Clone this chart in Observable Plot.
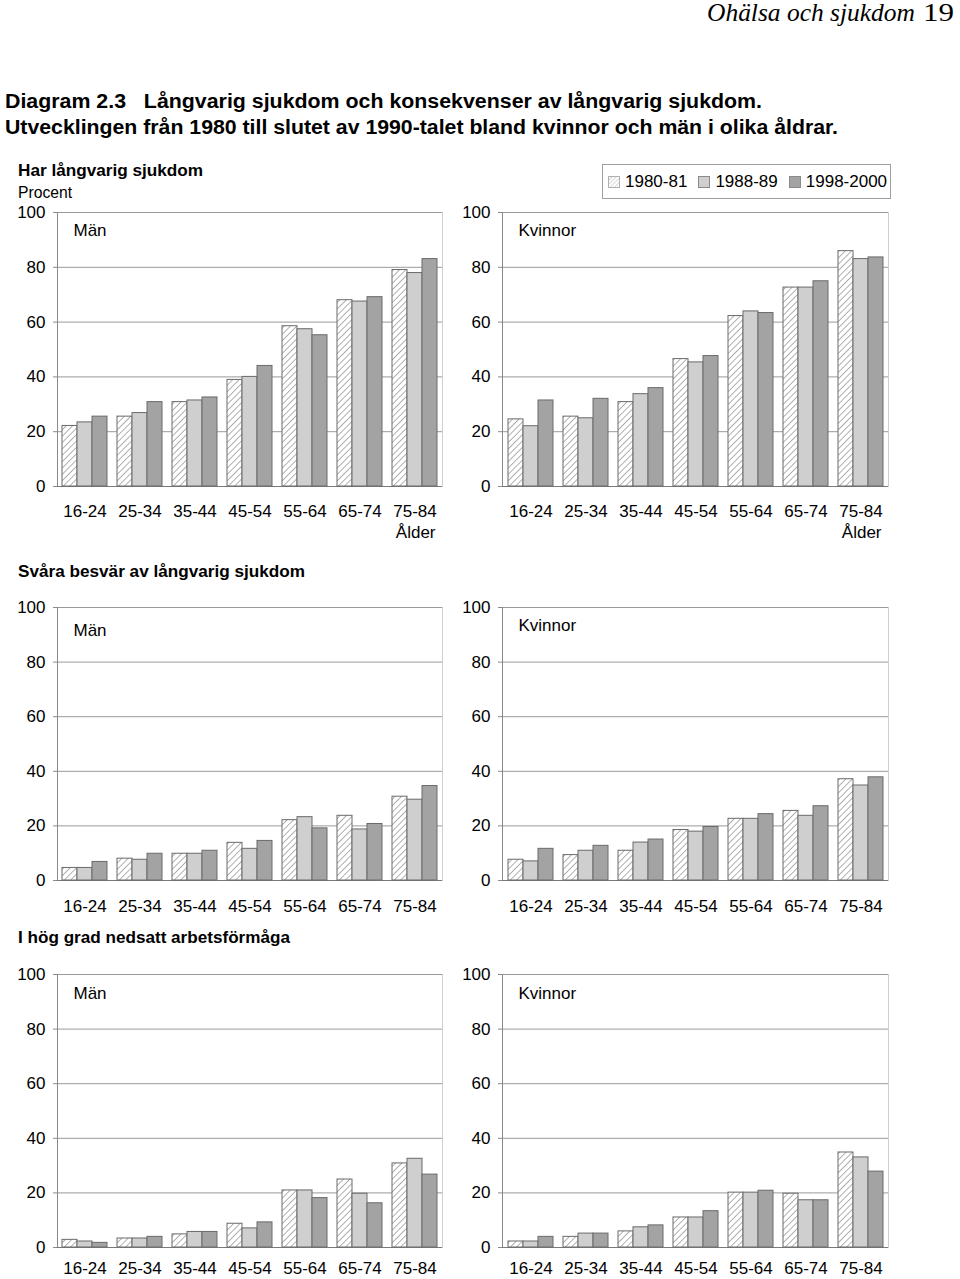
<!DOCTYPE html>
<html><head><meta charset="utf-8">
<script src="https://cdn.jsdelivr.net/npm/d3@7"></script>
<script src="https://cdn.jsdelivr.net/npm/@observablehq/plot@0.6"></script>
<style>
body{margin:0;background:#fff;width:960px;height:1279px;position:relative;overflow:hidden;font-family:"Liberation Sans",Arial,sans-serif;color:#000;}
.abs{position:absolute;white-space:pre;}
.fit{display:inline-block;transform-origin:left center;white-space:pre;}
svg.plot-svg{position:absolute;}
</style></head><body>
<svg width="0" height="0" style="position:absolute">
  <defs>
    <pattern id="hatch" patternUnits="userSpaceOnUse" width="4.5" height="4.5" patternTransform="rotate(45)">
      <rect width="4.5" height="4.5" fill="#fff"></rect>
      <line x1="0" y1="0" x2="0" y2="4.5" stroke="#a8a8a8" stroke-width="1.8"></line>
    </pattern>
    <pattern id="hatchSmall" patternUnits="userSpaceOnUse" width="3" height="3" patternTransform="rotate(45)">
      <rect width="3" height="3" fill="#fff"></rect>
      <line x1="0" y1="0" x2="0" y2="3" stroke="#bbb" stroke-width="1.2"></line>
    </pattern>
  </defs>
</svg>
<script>
// ---- data ----
const ages = ["16-24","25-34","35-44","45-54","55-64","65-74","75-84"];
const periods = ["1980-81","1988-89","1998-2000"];
const periodFills = ["url(#hatch)","#cfcfcf","#a3a3a3"];
const yTicks = [0,20,40,60,80,100];

// Har långvarig sjukdom
const chronicMen1980 = [22.1,25.5,30.8,38.9,58.5,68.0,79.0];
const chronicMen1988 = [23.4,26.8,31.4,40.0,57.4,67.5,77.9];
const chronicMen1998 = [25.5,30.8,32.5,44.0,55.2,69.1,83.0];
const chronicWomen1980 = [24.5,25.5,30.8,46.5,62.2,72.6,85.9];
const chronicWomen1988 = [22.0,24.9,33.7,45.3,63.9,72.6,83.0];
const chronicWomen1998 = [31.4,32.0,35.9,47.6,63.3,74.9,83.6];
// Svåra besvär av långvarig sjukdom
const severeMen1980 = [4.6,8.0,9.8,13.8,22.1,23.7,30.7];
const severeMen1988 = [4.6,7.6,9.8,11.6,23.2,18.7,29.6];
const severeMen1998 = [6.8,9.8,10.9,14.5,19.1,20.7,34.6];
const severeWomen1980 = [7.6,9.3,10.9,18.5,22.6,25.5,37.1];
const severeWomen1988 = [7.0,10.9,13.9,17.9,22.6,23.7,34.8];
const severeWomen1998 = [11.6,12.7,15.0,19.6,24.3,27.2,37.8];
// I hög grad nedsatt arbetsförmåga
const workMen1980 = [2.8,3.3,4.8,8.7,20.9,24.9,30.8];
const workMen1988 = [2.2,3.3,5.7,7.0,20.9,19.7,32.5];
const workMen1998 = [1.7,3.9,5.7,9.2,18.1,16.2,26.7];
const workWomen1980 = [2.2,3.9,5.9,11.0,20.1,19.7,34.8];
const workWomen1988 = [2.2,5.1,7.4,11.0,20.1,17.3,33.0];
const workWomen1998 = [3.9,5.1,8.1,13.3,20.8,17.3,27.8];

// ---- helpers ----
function addText(txt, {left, top, size, weight="normal", family, style="normal", width}) {
  const d = document.createElement("div");
  d.className = "abs";
  d.style.top = top + "px";
  d.style.left = left + "px";
  d.style.fontSize = size + "px";
  d.style.lineHeight = size + "px";
  d.style.fontWeight = weight;
  d.style.fontStyle = style;
  if (family) d.style.fontFamily = family;
  const s = document.createElement("span");
  s.className = "fit";
  s.textContent = txt;
  d.appendChild(s);
  document.body.appendChild(d);
  if (width) {
    const w = s.getBoundingClientRect().width;
    s.style.transform = `scaleX(${width / w})`;
  }
  return d;
}

function place(svg, left, top) {
  svg.classList.add("plot-svg");
  svg.style.left = left + "px";
  svg.style.top = top + "px";
  document.body.appendChild(svg);
}

function panel({series, label, left, top, marginBottom, innerHeight, alder, labelDy, tickPad, marginRight}) {
  const data = [];
  periods.forEach((p, i) => ages.forEach((a, j) => data.push({age: a, period: p, value: series[i][j]})));
  const W = 450, ML = 57, MT = 12;
  const H = MT + innerHeight + marginBottom;
  const base = {width: W, height: H, marginLeft: ML, marginRight, marginTop: MT, marginBottom};
  const font = {fontFamily: "Liberation Sans, Arial, sans-serif", fontSize: "17px", color: "#000", overflow: "visible"};
  const bg = Plot.plot({
    ...base,
    style: {...font, background: "white"},
    x: {domain: [0, 1], axis: null},
    y: {domain: [0, 100], axis: null},
    marks: [
      Plot.frame({stroke: "#cfcfcf"}),
      Plot.ruleY([20, 40, 60, 80, 100], {stroke: "#9a9a9a", strokeWidth: 1}),
      Plot.ruleY([0], {stroke: "#7a7a7a", strokeWidth: 1}),
      Plot.ruleX([0], {stroke: "#8a8a8a", strokeWidth: 1}),
      Plot.axisY({ticks: yTicks, tickSize: 4, tickPadding: 8, fontSize: 17, stroke: "#8a8a8a", label: null, tickFormat: d => String(d)}),
      Plot.text([label], {frameAnchor: "top-left", text: d => d, dx: 16, dy: labelDy, fontSize: 17, textAnchor: "start", lineAnchor: "middle", fill: "#000"}),
      alder ? Plot.text(["Ålder"], {frameAnchor: "bottom-right", text: d => d, dx: -7, dy: 46, fontSize: 17, textAnchor: "end", lineAnchor: "middle", fill: "#000"}) : null
    ]
  });
  place(bg, left, top);
  const bars = Plot.plot({
    ...base,
    style: {...font, background: "transparent"},
    fx: {domain: ages, paddingInner: 0.182, paddingOuter: 0.091, axis: null},
    x: {domain: periods, padding: 0, axis: null},
    y: {domain: [0, 100], axis: null},
    color: {domain: periods, range: periodFills},
    marks: [
      Plot.barY(data, {fx: "age", x: "period", y: "value", fill: "period", stroke: "#6a6a6a", strokeWidth: 1, insetLeft: 0, insetRight: 0}),
      Plot.axisFx({anchor: "bottom", tickSize: 0, tickPadding: tickPad, fontSize: 17, label: null})
    ]
  });
  place(bars, left, top);
}

// ---- page text ----
addText("Ohälsa och sjukdom", {left: 707, top: 0, size: 26, style: "italic", family: "'Liberation Serif', 'DejaVu Serif', serif", width: 208});
addText("19", {left: 923, top: 0, size: 26, family: "'Liberation Serif', 'DejaVu Serif', serif", width: 31});
addText("Diagram 2.3   Långvarig sjukdom och konsekvenser av långvarig sjukdom.", {left: 5, top: 91, size: 20, weight: "bold", width: 757});
addText("Utvecklingen från 1980 till slutet av 1990-talet bland kvinnor och män i olika åldrar.", {left: 5, top: 117, size: 20, weight: "bold", width: 833});
addText("Har långvarig sjukdom", {left: 18, top: 162, size: 17, weight: "bold", width: 185});
addText("Procent", {left: 18, top: 185, size: 16, width: 54});
addText("Svåra besvär av långvarig sjukdom", {left: 18, top: 563, size: 17, weight: "bold", width: 287});
addText("I hög grad nedsatt arbetsförmåga", {left: 18, top: 929, size: 17, weight: "bold", width: 272});

// ---- legend ----
(function legend() {
  const box = document.createElement("div");
  box.className = "abs";
  Object.assign(box.style, {left: "602px", top: "164px", width: "289px", height: "35px", boxSizing: "border-box", border: "1px solid #a0a0a0", display: "flex", alignItems: "center", paddingLeft: "5px", fontSize: "17px"});
  periods.forEach((p, i) => {
    const item = document.createElement("span");
    Object.assign(item.style, {display: "inline-flex", alignItems: "center", marginRight: i < 2 ? "11px" : "0"});
    const fill = i === 0 ? "url(#hatchSmall)" : periodFills[i];
    item.innerHTML = `<svg width="12" height="12" style="margin-right:5px"><rect x="0.5" y="0.5" width="11" height="11" fill="${fill}" stroke="${i === 0 ? '#b0b0b0' : '#8a8a8a'}"/></svg>`;
    const t = document.createElement("span");
    t.textContent = p;
    item.appendChild(t);
    box.appendChild(item);
  });
  document.body.appendChild(box);
})();

// ---- panels ----
panel({series: [chronicMen1980, chronicMen1988, chronicMen1998], label: "Män", left: 0, top: 200, innerHeight: 274, marginBottom: 56, alder: true, labelDy: 18, tickPad: 18, marginRight: 8});
panel({series: [chronicWomen1980, chronicWomen1988, chronicWomen1998], label: "Kvinnor", left: 445, top: 200, innerHeight: 274, marginBottom: 56, alder: true, labelDy: 18, tickPad: 18, marginRight: 7});
panel({series: [severeMen1980, severeMen1988, severeMen1998], label: "Män", left: 0, top: 595, innerHeight: 273, marginBottom: 36, alder: false, labelDy: 23, tickPad: 19, marginRight: 8});
panel({series: [severeWomen1980, severeWomen1988, severeWomen1998], label: "Kvinnor", left: 445, top: 595, innerHeight: 273, marginBottom: 36, alder: false, labelDy: 18, tickPad: 19, marginRight: 7});
panel({series: [workMen1980, workMen1988, workMen1998], label: "Män", left: 0, top: 962, innerHeight: 273, marginBottom: 32, alder: false, labelDy: 19, tickPad: 14, marginRight: 8});
panel({series: [workWomen1980, workWomen1988, workWomen1998], label: "Kvinnor", left: 445, top: 962, innerHeight: 273, marginBottom: 32, alder: false, labelDy: 19, tickPad: 14, marginRight: 7});
</script>
</body></html>
